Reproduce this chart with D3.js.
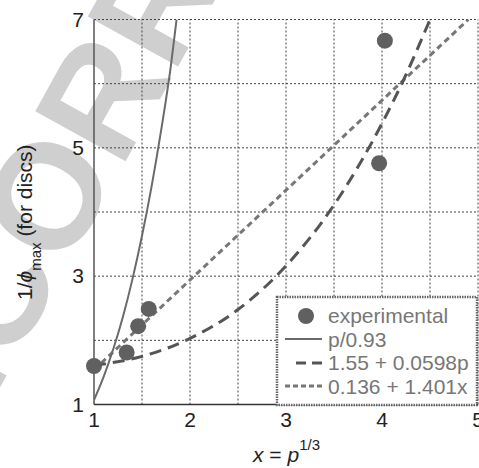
<!DOCTYPE html>
<html>
<head>
<meta charset="utf-8">
<script src="https://cdn.jsdelivr.net/npm/d3@7"></script>
<style>
  body { margin: 0; background: #fff; }
  svg { display: block; font-family: "Liberation Sans", Arial, sans-serif; }
</style>
</head>
<body>
<div id="chart"></div>
<script>
// experimental points
const expX = [1.0, 1.34, 1.46, 1.57, 3.97, 4.03];
const expY = [1.60, 1.81, 2.22, 2.49, 4.76, 6.67];

// p/0.93 curve
const solidX = [1.0, 1.1, 1.2, 1.3, 1.4, 1.5, 1.6, 1.7, 1.8, 1.86];
const solidY = [1.07, 1.43, 1.86, 2.36, 2.95, 3.63, 4.40, 5.28, 6.27, 7.0];

// 1.55 + 0.0598p curve
const dashX = [1.0, 1.5, 2.0, 2.5, 3.0, 3.5, 4.0, 4.25, 4.5];
const dashY = [1.61, 1.75, 2.03, 2.48, 3.16, 4.11, 5.38, 6.14, 7.0];

// 0.136 + 1.401x line
const dotX = [1.0, 4.9];
const dotY = [1.54, 7.0];

const xTicks = [1, 2, 3, 4, 5];
const yTicks = [1, 3, 5, 7];
const xGrid = [1.5, 2, 2.5, 3, 3.5, 4, 4.5, 5];
const yGrid = [2, 3, 4, 5, 6, 7];

const legendLabels = ["experimental", "p/0.93", "1.55 + 0.0598p", "0.136 + 1.401x"];

let width = 479, height = 468;
let x = d3.scaleLinear().domain([1, 5]).range([94, 478]);
let y = d3.scaleLinear().domain([1, 7]).range([404.5, 19.5]);

let svg = d3.select("#chart")
            .append("svg")
            .attr("width", width)
            .attr("height", height);

// watermark
svg.append("g")
    .attr("transform", "translate(45,195) rotate(-61)")
    .append("text")
    .attr("x", -383)
    .attr("y", 54)
    .attr("font-size", 150)
    .attr("font-weight", "bold")
    .attr("fill", "#cfcfcf")
    .text("UNCORRECTED PROOF");

svg.append("defs").append("clipPath")
    .attr("id", "plotclip")
    .append("rect")
    .attr("x", x(1)).attr("y", y(7))
    .attr("width", x(5) - x(1)).attr("height", y(1) - y(7));

// grid
svg.append("g")
    .selectAll("line")
    .data(xGrid)
    .join("line")
    .attr("x1", d => x(d)).attr("x2", d => x(d))
    .attr("y1", y(1)).attr("y2", y(7))
    .attr("stroke", "#444")
    .attr("stroke-width", 1)
    .attr("stroke-dasharray", "2,2");
svg.append("g")
    .selectAll("line")
    .data(yGrid)
    .join("line")
    .attr("x1", x(1)).attr("x2", x(5))
    .attr("y1", d => y(d)).attr("y2", d => y(d))
    .attr("stroke", "#444")
    .attr("stroke-width", 1)
    .attr("stroke-dasharray", "2,2");

// axes lines
svg.append("line")
    .attr("x1", x(1)).attr("x2", x(1))
    .attr("y1", y(1)).attr("y2", y(7))
    .attr("stroke", "#555").attr("stroke-width", 1.5);
svg.append("line")
    .attr("x1", x(1)).attr("x2", x(5))
    .attr("y1", y(1)).attr("y2", y(1))
    .attr("stroke", "#333").attr("stroke-width", 1.5);

// tick labels
svg.append("g")
    .selectAll("text")
    .data(xTicks)
    .join("text")
    .attr("x", d => x(d))
    .attr("y", 427)
    .attr("text-anchor", "middle")
    .attr("font-size", 21)
    .attr("fill", "#222")
    .text(d => d);
svg.append("g")
    .selectAll("text")
    .data(yTicks)
    .join("text")
    .attr("x", 84)
    .attr("y", d => y(d) + 7)
    .attr("text-anchor", "end")
    .attr("font-size", 21)
    .attr("fill", "#222")
    .text(d => d);

// axis titles
let xt = svg.append("text")
    .attr("x", 253)
    .attr("y", 462)
    .attr("font-size", 21)
    .attr("fill", "#222");
xt.append("tspan").attr("font-style", "italic").text("x");
xt.append("tspan").text(" = ");
xt.append("tspan").attr("font-style", "italic").text("p");
xt.append("tspan").attr("font-size", 15).attr("dy", -12).text("1/3");

let yt = svg.append("text")
    .attr("transform", "translate(32,300) rotate(-90)")
    .attr("font-size", 21)
    .attr("fill", "#222");
yt.append("tspan").text("1/");
yt.append("tspan").attr("font-style", "italic").text("\u03d5");
yt.append("tspan").attr("font-size", 15).attr("dy", 9).text("max");
yt.append("tspan").attr("dy", -9).text(" (for discs)");

// curves
let plot = svg.append("g").attr("clip-path", "url(#plotclip)");
let line = d3.line()
    .x(d => x(d[0]))
    .y(d => y(d[1]))
    .curve(d3.curveMonotoneX);

plot.append("path")
    .datum(d3.zip(dotX, dotY))
    .attr("fill", "none")
    .attr("stroke", "#777")
    .attr("stroke-width", 3)
    .attr("stroke-dasharray", "6,4")
    .attr("d", line);
plot.append("path")
    .datum(d3.zip(dashX, dashY))
    .attr("fill", "none")
    .attr("stroke", "#555")
    .attr("stroke-width", 3)
    .attr("stroke-dasharray", "12,7")
    .attr("d", line);
plot.append("path")
    .datum(d3.zip(solidX, solidY))
    .attr("fill", "none")
    .attr("stroke", "#6a6a6a")
    .attr("stroke-width", 2)
    .attr("d", line);

svg.append("g")
    .selectAll("circle")
    .data(d3.zip(expX, expY))
    .join("circle")
    .attr("cx", d => x(d[0]))
    .attr("cy", d => y(d[1]))
    .attr("r", 8)
    .attr("fill", "#606060");

// legend
let lg = svg.append("g");
lg.append("rect")
    .attr("x", 277).attr("y", 297)
    .attr("width", 200).attr("height", 108)
    .attr("fill", "#fff")
    .attr("stroke", "#666")
    .attr("stroke-width", 2.5)
    .attr("stroke-dasharray", "1.5,1");
lg.append("circle")
    .attr("cx", 306).attr("cy", 316).attr("r", 8)
    .attr("fill", "#606060");
lg.append("line")
    .attr("x1", 285).attr("x2", 322).attr("y1", 339).attr("y2", 339)
    .attr("stroke", "#6a6a6a").attr("stroke-width", 2);
lg.append("line")
    .attr("x1", 296).attr("x2", 322).attr("y1", 363).attr("y2", 363)
    .attr("stroke", "#555").attr("stroke-width", 3)
    .attr("stroke-dasharray", "10,6");
lg.append("line")
    .attr("x1", 285).attr("x2", 322).attr("y1", 386).attr("y2", 386)
    .attr("stroke", "#777").attr("stroke-width", 3)
    .attr("stroke-dasharray", "5,3");
lg.selectAll("text.lab")
    .data(legendLabels)
    .join("text")
    .attr("class", "lab")
    .attr("x", 328)
    .attr("y", (d, i) => 323 + i * 23.7)
    .attr("font-size", 21)
    .attr("fill", "#777")
    .text(d => d);
</script>
</body>
</html>
